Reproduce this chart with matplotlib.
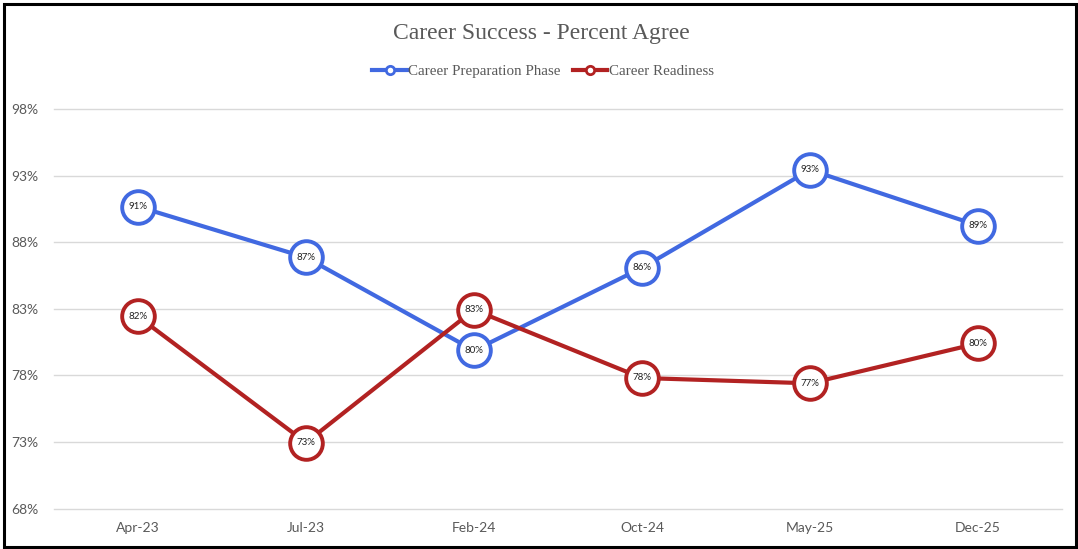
import matplotlib
matplotlib.use("Agg")
import matplotlib.pyplot as plt
from matplotlib.lines import Line2D
from matplotlib.patches import Rectangle

categories = ["Apr-23", "Jul-23", "Feb-24", "Oct-24", "May-25", "Dec-25"]
prep_phase = [90.67, 86.85, 79.87, 86.07, 93.43, 89.25]
readiness = [82.42, 72.95, 82.92, 77.8, 77.4, 80.4]
yticks = [68, 73, 78, 83, 88, 93, 98]
series_names = ["Career Preparation Phase", "Career Readiness"]
title = "Career Success - Percent Agree"

BLUE = "#4169E1"
RED = "#B22222"
GRAY = "#595959"

W, H = 1078, 549
fig = plt.figure(figsize=(W / 100, H / 100), dpi=100)
fig.patch.set_facecolor("white")

left, right = 54, 1062
y68, y98 = 508.5, 109.0
per = (y68 - y98) / 30.0
ymax = 99.0
top_px = y68 - (ymax - 68) * per
ax = fig.add_axes([left / W, (H - y68) / H, (right - left) / W, (y68 - top_px) / H])

x = list(range(len(categories)))
for vals, col, name in [(prep_phase, BLUE, series_names[0]), (readiness, RED, series_names[1])]:
    ax.plot(x, vals, color=col, lw=3.0, marker="o", markersize=23.5,
            markerfacecolor="white", markeredgecolor=col, markeredgewidth=2.8,
            label=name, zorder=3, clip_on=False)
    for xi, v in zip(x, vals):
        ax.text(xi, v, f"{round(v)}%", ha="center", va="center", fontsize=7,
                family="Lato", color="#222222", zorder=4)

ax.set_xlim(-0.5, len(categories) - 0.5)
ax.set_ylim(68, ymax)
ax.set_yticks(yticks)
ax.set_yticklabels([f"{t}%" for t in yticks])
ax.set_xticks(x)
ax.set_xticklabels(categories)
for lab in ax.get_xticklabels() + ax.get_yticklabels():
    lab.set_family("Lato")
    lab.set_fontsize(10)
    lab.set_color(GRAY)
ax.tick_params(axis="both", length=0)
ax.tick_params(axis="y", pad=11)
ax.tick_params(axis="x", pad=10)
ax.grid(axis="y", color="#D9D9D9", lw=1.0, zorder=0)
for gl in ax.get_ygridlines():
    gl.set_clip_on(False)
ax.set_axisbelow(True)
for s in ax.spines.values():
    s.set_visible(False)
ax.set_facecolor("white")

fig.text(541 / W, 1 - 33 / H, title, ha="center", va="center",
         family="Liberation Serif", fontsize=17, color=GRAY)

handles = [Line2D([], [], color=BLUE, lw=3, marker="o", markersize=6,
                  markerfacecolor="white", markeredgecolor=BLUE, markeredgewidth=2),
           Line2D([], [], color=RED, lw=3, marker="o", markersize=6,
                  markerfacecolor="white", markeredgecolor=RED, markeredgewidth=2)]
leg = fig.legend(handles, series_names, loc="center", bbox_to_anchor=(543 / W, 1 - 71 / H),
                 ncol=2, frameon=False, handlelength=2.3, handletextpad=0.1,
                 columnspacing=0.8, prop={"family": "Liberation Serif", "size": 10.8})
for t in leg.get_texts():
    t.set_color(GRAY)

# outer frame
fig.add_artist(Rectangle((4 / W, 2 / H), 1072 / W, 543 / H, transform=fig.transFigure,
                         fill=False, edgecolor="black", lw=2.2))

fig.savefig("out.png", dpi=100, facecolor="white")
